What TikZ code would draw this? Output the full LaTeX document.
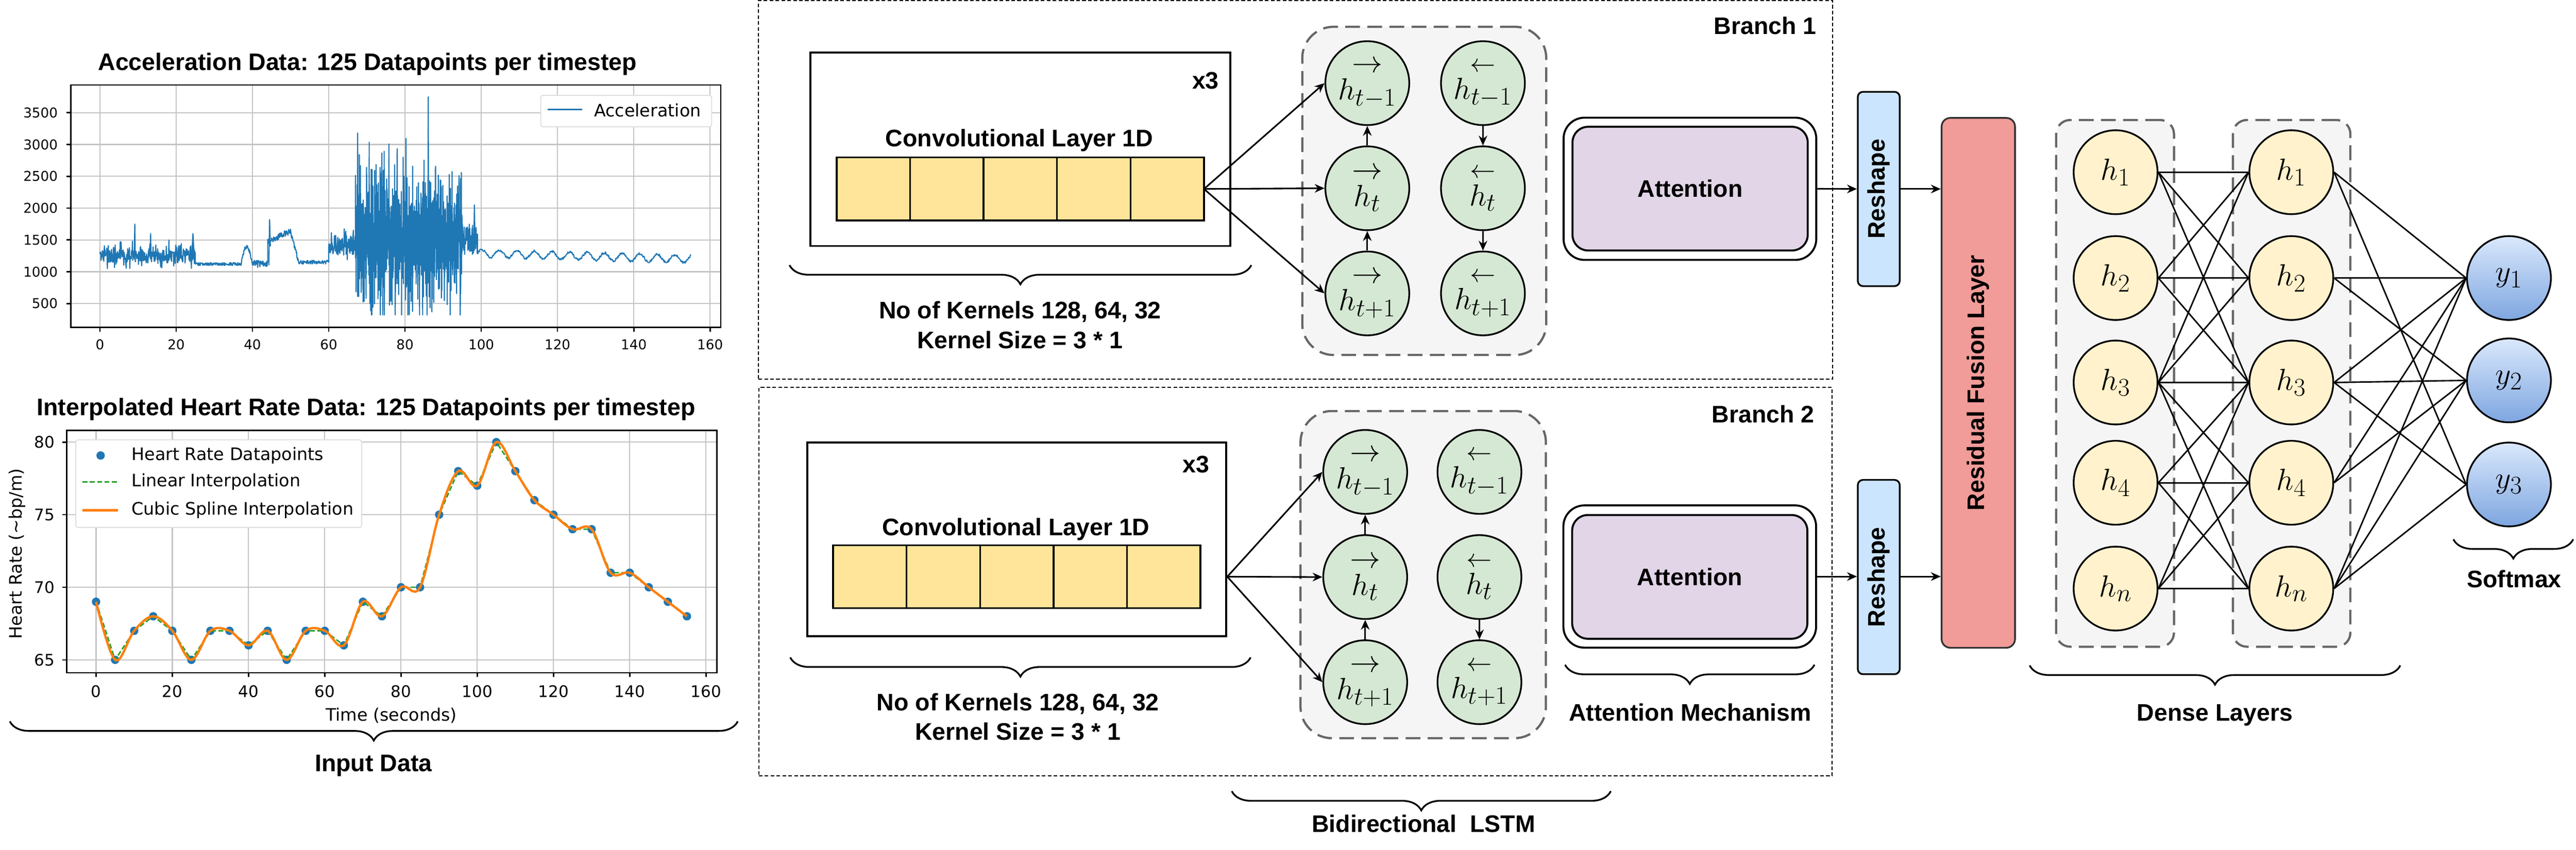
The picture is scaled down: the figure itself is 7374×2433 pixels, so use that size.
\documentclass[tikz,border=0pt]{standalone}
\usepackage{amsmath}
\usepackage{fontspec}
\setmainfont{Liberation Sans}
\newfontfamily\plotfont{DejaVu Sans}
\usepackage{tikz}
\usetikzlibrary{positioning,calc,shapes,shapes.geometric,arrows.meta,decorations.pathreplacing}

\definecolor{convfill}{HTML}{FFE599}
\definecolor{lstmfill}{HTML}{D5E8D4}
\definecolor{attfill}{HTML}{E1D5E7}
\definecolor{reshapefill}{HTML}{CCE5FF}
\definecolor{fusionfill}{HTML}{F19C99}
\definecolor{densefill}{HTML}{FFF2CC}
\definecolor{outtop}{HTML}{DAE8FC}
\definecolor{outbot}{HTML}{7EA6E0}
\definecolor{groupfill}{HTML}{F5F5F5}
\definecolor{groupline}{HTML}{666666}
\definecolor{mplblue}{HTML}{1F77B4}
\definecolor{mplorange}{HTML}{FF7F0E}
\definecolor{mplgreen}{HTML}{2CA02C}
\definecolor{gridgray}{HTML}{C4C4C4}

\newcommand{\lbl}{\fontsize{19.5}{24.2}\selectfont\bfseries}
\newcommand{\mth}{\fontsize{24.88}{28}\selectfont}
\newcommand{\fwd}[1]{\overset{\textstyle\rightarrow}{h_{#1}}}
\newcommand{\bwd}[1]{\overset{\leftarrow}{h_{#1}}}

\newcommand{\lstmcell}[4][]{
	\node [lstm] (#1) at (#2, #3) {$#4$};
}
\newcommand{\hcell}[4][]{
	\node [dense] (#1) at (#2, #3) {$#4$};
}
\newcommand{\ycell}[4][]{
	\node [outnode] (#1) at (#2, #3) {$#4$};
}
\newcommand{\wire}[2]{
	\path [draw, wireline] (#1.east) -- (#2.west);
}
\newcommand{\flow}[2]{
	\path [draw, arr] (#1) -- (#2);
}

\tikzset{
	arr/.style={-{Stealth[length=8pt,width=7pt]}, line width=1.3pt},
	wireline/.style={line width=1.2pt},
	branchframe/.style={draw, dash pattern=on 3pt off 1.8pt, line width=0.8pt, inner sep=0pt},
	group/.style={draw=groupline, fill=groupfill, dash pattern=on 12pt off 6pt, line width=1.8pt, inner sep=0pt},
	convouter/.style={draw, fill=white, line width=1.6pt, inner sep=0pt, minimum height=5.54cm},
	convcell/.style={draw, fill=convfill, line width=1.4pt, minimum width=2.102cm, minimum height=1.80cm, inner sep=0pt, outer sep=0pt},
	lstm/.style={draw, circle, fill=lstmfill, line width=1.4pt, minimum size=2.4cm, inner sep=0pt, font=\mth},
	dense/.style={draw, circle, fill=densefill, line width=1.4pt, minimum size=2.4cm, inner sep=0pt, font=\mth},
	outnode/.style={draw, circle, top color=outtop, bottom color=outbot, line width=1.4pt, minimum size=2.4cm, inner sep=0pt, font=\mth},
	attouter/.style={draw, fill=white, line width=1.6pt, rounded corners=0.6cm, minimum width=7.23cm, minimum height=4.07cm},
	attbox/.style={draw, fill=attfill, line width=1.6pt, rounded corners=0.45cm, minimum width=6.73cm, minimum height=3.54cm, font=\lbl},
	reshapebox/.style={draw, fill=reshapefill, line width=1.4pt, rounded corners=0.15cm, minimum width=1.2cm, minimum height=5.56cm, inner sep=0pt, font=\lbl},
	fusionbox/.style={draw=black!80, fill=fusionfill, line width=1.4pt, rounded corners=0.25cm, minimum width=2.1cm, minimum height=15.16cm, inner sep=0pt, font=\lbl},
	curly/.style={decorate, decoration={brace, mirror, amplitude=0.55cm}, line width=1.4pt},
	note/.style={font=\lbl, align=center},
	gridline/.style={gridgray, line width=0.9pt},
	axisline/.style={black, line width=1.1pt},
	accline/.style={mplblue, line width=0.9pt, line join=round},
	linline/.style={mplgreen, line width=1.2pt, dash pattern=on 4pt off 2pt},
	splineline/.style={mplorange, line width=1.9pt},
	ticklabel/.style={font=\plotfont\fontsize{11}{13}\selectfont, inner sep=0pt},
	ticklabelb/.style={font=\plotfont\fontsize{13}{15}\selectfont, inner sep=0pt},
	legendtext/.style={font=\plotfont\fontsize{14}{16}\selectfont, anchor=west, inner sep=0pt},
}

\begin{document}
\begin{tikzpicture}[x=0.01cm, y=-0.01cm, declare function={cube(\r)=\r*\r*\r;}]
	\useasboundingbox (0,0) rectangle (7374,2433);
	\pgfmathsetseed{4242}

	% ---- acceleration plot
	\node[font=\lbl] (acctitle) at (1052,183) {Acceleration Data: 125 Datapoints per timestep};
	\begin{scope}[shift={(286,960)}, x=0.10910cm, y=1.82cm]
		\foreach \t in {0,20,...,160}
			\draw[gridline] (\t,0.126) -- (\t,3.934);
		\foreach \v in {0.5,1,...,3.5}
			\draw[gridline] (-7.61,\v) -- (162.8,\v);
		\draw[accline] plot[domain=0:25, samples=320] (\x,{1.25+0.09*rand+0.16*cube(rand)})
			-- plot[domain=25:37, samples=130] (\x,{1.12+0.025*rand})
			-- plot[domain=37:40, samples=40] (\x,{1.12+0.27*sin((\x-37)*60)+0.03*rand})
			-- plot[domain=40:44, samples=50] (\x,{1.12+0.06*rand})
			-- plot[domain=44:50, samples=70] (\x,{1.47+0.028*(\x-44)+0.05*rand})
			-- plot[domain=50:52, samples=25] (\x,{1.62-0.22*(\x-50)+0.04*rand})
			-- plot[domain=52:60, samples=90] (\x,{1.15+0.03*rand})
			-- plot[domain=60:67, samples=90] (\x,{1.42+0.15*rand+0.12*cube(rand)})
			-- plot[domain=67:95, samples=900] (\x,{min(3.2,max(0.32,1.5+0.55*rand+1.1*cube(rand)))})
			-- plot[domain=95:99, samples=80] (\x,{1.5+0.25*rand})
			-- plot[domain=0:56, samples=450] ({\x+99},{1.29-0.0016*\x+0.06*sin(78.26*\x)+0.018*rand});
		\draw[accline] (9,1.25) -- (9.15,1.75) -- (9.3,1.15);
		\draw[accline] (13.2,1.2) -- (13.3,1.6) -- (13.4,1.2);
		\draw[accline] (18,1.2) -- (18.1,1.5) -- (18.2,1.2);
		\draw[accline] (24,1.15) -- (24.4,1.6) -- (24.8,1.12);
		\draw[accline] (44.3,1.1) -- (44.5,1.82) -- (44.7,1.4);
		\draw[accline] (67.5,1.4) -- (67.6,3.18) -- (67.7,1.3);
		\draw[accline] (86,1.5) -- (86.1,3.75) -- (86.2,1.0);
		\draw[accline] (98,1.3) -- (98.2,2.05) -- (98.4,1.4);
		\draw[axisline] (-7.61,0.126) rectangle (162.8,3.934);
		\foreach \t in {0,20,...,160}{
			\draw[axisline] (\t,0.126) -- ++(0,-0.12cm);
			\node[ticklabel] at (\t,-0.143) {\t};
		}
		\foreach \v/\l in {0.5/500,1/1000,1.5/1500,2/2000,2.5/2500,3/3000,3.5/3500}{
			\draw[axisline] (-7.61,\v) -- ++(-0.12cm,0);
			\node[ticklabel, anchor=east] at (-11,\v) {\l};
		}
	\end{scope}
	\draw[gray!25, fill=white, line width=0.8pt, rounded corners=0.06cm] (1548,273) rectangle (2037,363);
	\draw[mplblue, line width=1.2pt] (1567,313) -- (1667,313);
	\node[legendtext] (acclegend) at (1700,315) {Acceleration};

	% ---- heart rate plot
	\node[font=\lbl] (hrtitle) at (1048,1172) {Interpolated Heart Rate Data: 125 Datapoints per timestep};
	\begin{scope}[shift={(275,1889)}, x=0.10906cm, y=0.4153cm]
		\foreach \t in {0,20,...,160}
			\draw[gridline] (\t,-0.89) -- (\t,15.8);
		\foreach \v in {0,5,10,15}
			\draw[gridline] (-7.7,\v) -- (162.85,\v);
		\foreach \t/\h in {0/69,5/65,10/67,15/68,20/67,25/65,30/67,35/67,40/66,45/67,50/65,55/67,60/67,65/66,70/69,75/68,80/70,85/70,90/75,95/78,100/77,105/80,110/78,115/76,120/75,125/74,130/74,135/71,140/71,145/70,150/69,155/68}
			\fill[mplblue] (\t,\h-65) circle (0.12cm);
		\draw[linline] plot coordinates {(0,4) (5,0) (10,2) (15,3) (20,2) (25,0) (30,2) (35,2) (40,1) (45,2) (50,0) (55,2) (60,2) (65,1) (70,4) (75,3) (80,5) (85,5) (90,10) (95,13) (100,12) (105,15) (110,13) (115,11) (120,10) (125,9) (130,9) (135,6) (140,6) (145,5) (150,4) (155,3)};
		\draw[splineline] plot[smooth, tension=0.6] coordinates {(0,4) (5,0) (10,2) (15,3) (20,2) (25,0) (30,2) (35,2) (40,1) (45,2) (50,0) (55,2) (60,2) (65,1) (70,4) (75,3) (80,5) (85,5) (90,10) (95,13) (100,12) (105,15) (110,13) (115,11) (120,10) (125,9) (130,9) (135,6) (140,6) (145,5) (150,4) (155,3)};
		\draw[axisline] (-7.7,-0.89) rectangle (162.85,15.8);
		\foreach \t in {0,20,...,160}{
			\draw[axisline] (\t,-0.89) -- ++(0,-0.12cm);
			\node[ticklabelb] at (\t,-2.19) {\t};
		}
		\foreach \v/\l in {0/65,5/70,10/75,15/80}{
			\draw[axisline] (-7.7,\v) -- ++(-0.12cm,0);
			\node[ticklabelb, anchor=east] at (-10.82,\v) {\l};
		}
	\end{scope}
	\draw[gray!25, fill=white, line width=0.8pt, rounded corners=0.06cm] (217,1259) rectangle (1035,1510);
	\fill[mplblue] (288,1304) circle (12);
	\node[legendtext] (hrleg1) at (376,1304) {Heart Rate Datapoints};
	\draw[linline] (236,1380) -- (337,1380);
	\node[legendtext] (hrleg2) at (376,1380) {Linear Interpolation};
	\draw[splineline] (236,1461) -- (337,1461);
	\node[legendtext] (hrleg3) at (376,1461) {Cubic Spline Interpolation};
	\node[font=\plotfont\fontsize{14}{16}\selectfont] (hrxlabel) at (1120,2048) {Time (seconds)};
	\node[font=\plotfont\fontsize{14}{16}\selectfont, rotate=90] (hrylabel) at (49,1585) {Heart Rate (\textasciitilde bp/m)};

	\draw[curly] (28,2065) -- (2112,2065);
	\node[note] (inputdata) at (1069,2192) {Input Data};

	% ---- branch frames
	\node[branchframe, minimum width=30.73cm, minimum height=10.83cm] (br1) at (3708.5,543.5) {};
	\node[branchframe, minimum width=30.71cm, minimum height=11.11cm] (br2) at (3708.5,1665.5) {};
	\node[font=\lbl, anchor=east] (br1label) at (5212,73) {Branch 1};
	\node[font=\lbl, anchor=east] (br2label) at (5206,1185) {Branch 2};

	% ---- convolution blocks
	\node[convouter, minimum width=12.02cm] (conv1) at (2921,427) {};
	\node[convcell] (c11) at (2500,541) {};
	\node[convcell, right=0pt of c11] (c12) {};
	\node[convcell, right=0pt of c12] (c13) {};
	\node[convcell, right=0pt of c13] (c14) {};
	\node[convcell, right=0pt of c14] (c15) {};
	\node[font=\lbl] (conv1name) at (2918,402) {Convolutional Layer 1D};
	\node[font=\lbl] (conv1rep) at (3451,231) {x3};

	\node[convouter, minimum width=11.99cm] (conv2) at (2910.5,1544) {};
	\node[convcell] (c21) at (2490,1651) {};
	\node[convcell, right=0pt of c21] (c22) {};
	\node[convcell, right=0pt of c22] (c23) {};
	\node[convcell, right=0pt of c23] (c24) {};
	\node[convcell, right=0pt of c24] (c25) {};
	\node[font=\lbl] (conv2name) at (2908,1515) {Convolutional Layer 1D};
	\node[font=\lbl] (conv2rep) at (3424,1330) {x3};

	\draw[curly] (2260,759) -- (3582,759);
	\node[note] (conv1note) at (2920,930) {No of Kernels 128, 64, 32\\Kernel Size = 3 * 1};
	\draw[curly] (2262,1882) -- (3580,1882);
	\node[note] (conv2note) at (2914,2052) {No of Kernels 128, 64, 32\\Kernel Size = 3 * 1};

	% ---- bidirectional LSTM
	\node[group, rounded corners=0.9cm, minimum width=6.98cm, minimum height=9.39cm] (bl1) at (4077,546.5) {};
	\node[group, rounded corners=0.9cm, minimum width=7.02cm, minimum height=9.36cm] (bl2) at (4074,1645) {};

	\lstmcell[f1a]{3914}{238}{\fwd{t-1}}
	\lstmcell[f1b]{3914}{539}{\fwd{t}}
	\lstmcell[f1c]{3914}{840}{\fwd{t+1}}
	\lstmcell[b1a]{4245}{238}{\bwd{t-1}}
	\lstmcell[b1b]{4245}{539}{\bwd{t}}
	\lstmcell[b1c]{4245}{840}{\bwd{t+1}}

	\lstmcell[f2a]{3908}{1351}{\fwd{t-1}}
	\lstmcell[f2b]{3908}{1652}{\fwd{t}}
	\lstmcell[f2c]{3908}{1953}{\fwd{t+1}}
	\lstmcell[b2a]{4235}{1351}{\bwd{t-1}}
	\lstmcell[b2b]{4235}{1652}{\bwd{t}}
	\lstmcell[b2c]{4235}{1953}{\bwd{t+1}}

	\flow{c15.east}{f1a.west}
	\flow{c15.east}{f1b.west}
	\flow{c15.east}{f1c.west}
	\flow{f1b.north}{f1a.south}
	\flow{f1c.north}{f1b.south}
	\flow{b1a.south}{b1b.north}
	\flow{b1b.south}{b1c.north}

	\coordinate (conv2out) at (conv2.east |- c23.center);
	\flow{conv2out}{f2a.west}
	\flow{conv2out}{f2b.west}
	\flow{conv2out}{f2c.west}
	\flow{f2b.north}{f2a.south}
	\flow{f2c.north}{f2b.south}
	\flow{b2b.south}{b2c.north}

	\draw[curly] (3526,2265) -- (4611,2265);
	\node[note] (bilstmnote) at (4075,2358) {Bidirectional\ \ LSTM};

	% ---- attention
	\node[attouter] (att1o) at (4837.5,540.5) {};
	\node[attbox] (att1) at (4838,540) {Attention};
	\node[attouter] (att2o) at (4837,1650.5) {};
	\node[attbox] (att2) at (4837,1651.5) {Attention};
	\draw[curly] (4480,1903) -- (5194,1903);
	\node[note] (attnote) at (4838,2039) {Attention Mechanism};

	% ---- reshape and fusion
	\node[reshapebox] (reshape1) at (5378,541) {\rotatebox{90}{Reshape}};
	\node[reshapebox] (reshape2) at (5378,1652) {\rotatebox{90}{Reshape}};
	\node[fusionbox] (fusion) at (5663,1096) {\rotatebox{90}{Residual Fusion Layer}};

	\flow{att1o.east}{reshape1.west}
	\flow{att2o.east}{att2o.east -| reshape2.west}
	\flow{reshape1.east}{reshape1.east -| fusion.west}
	\flow{att2o.east -| reshape2.east}{att2o.east -| fusion.west}

	% ---- dense layers
	\node[group, rounded corners=0.4cm, minimum width=3.37cm, minimum height=15.07cm] (g1) at (6054.5,1097.5) {};
	\node[group, rounded corners=0.4cm, minimum width=3.36cm, minimum height=15.07cm] (g2) at (6560,1097.5) {};

	\hcell[d1a]{6056}{493}{h_1}
	\hcell[d1b]{6056}{796}{h_2}
	\hcell[d1c]{6056}{1095}{h_3}
	\hcell[d1d]{6056}{1382}{h_4}
	\hcell[d1e]{6056}{1685}{h_n}
	\hcell[d2a]{6559}{493}{h_1}
	\hcell[d2b]{6559}{796}{h_2}
	\hcell[d2c]{6559}{1095}{h_3}
	\hcell[d2d]{6559}{1382}{h_4}
	\hcell[d2e]{6559}{1685}{h_n}
	\ycell[o1]{7182}{796}{y_1}
	\ycell[o2]{7182}{1089}{y_2}
	\ycell[o3]{7182}{1387}{y_3}

	\wire{d1a}{d2a} \wire{d1a}{d2b} \wire{d1a}{d2c}
	\wire{d1b}{d2a} \wire{d1b}{d2b} \wire{d1b}{d2c}
	\wire{d1c}{d2a} \wire{d1c}{d2b} \wire{d1c}{d2c} \wire{d1c}{d2d} \wire{d1c}{d2e}
	\wire{d1d}{d2c} \wire{d1d}{d2d} \wire{d1d}{d2e}
	\wire{d1e}{d2c} \wire{d1e}{d2d} \wire{d1e}{d2e}

	\wire{d2a}{o1} \wire{d2a}{o3}
	\wire{d2b}{o1} \wire{d2b}{o2}
	\wire{d2c}{o1} \wire{d2c}{o2} \wire{d2c}{o3}
	\wire{d2d}{o1} \wire{d2d}{o2}
	\wire{d2e}{o1} \wire{d2e}{o2} \wire{d2e}{o3}

	\draw[curly] (5810,1905) -- (6871,1905);
	\node[note] (densenote) at (6340,2048) {Dense Layers};
	\draw[curly] (7023,1544) -- (7366,1544);
	\node[note] (softmaxnote) at (7197,1657) {Softmax};
\end{tikzpicture}
\end{document}
